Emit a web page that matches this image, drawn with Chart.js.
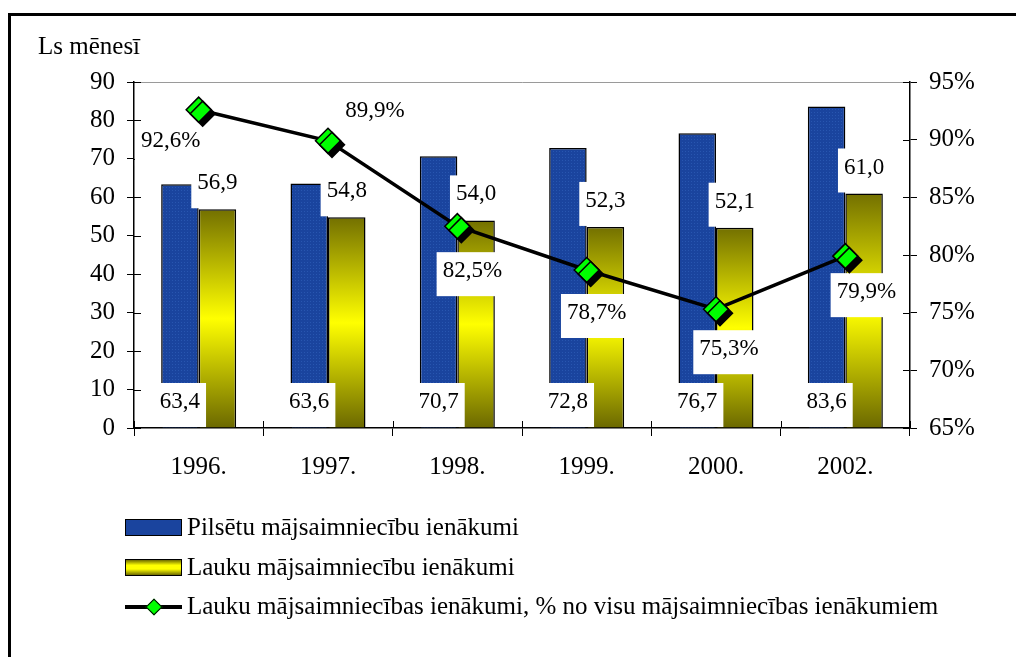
<!DOCTYPE html>
<html>
<head>
<meta charset="utf-8">
<script src="https://cdn.jsdelivr.net/npm/chart.js@4.4.1/dist/chart.umd.min.js"></script>
<style>
  html, body { margin: 0; padding: 0; background: #fff; overflow: hidden; }
  #wrap { position: relative; width: 1016px; height: 657px; overflow: hidden; }
  #frame { position: absolute; left: 8px; top: 13px; width: 1100px; height: 700px;
           border-left: 3px solid #000; border-top: 3px solid #000; }
  #chart { position: absolute; left: 0; top: 0; }
  .item { position: absolute; left: 125px; height: 40px; display: flex; align-items: center;
          font: 25px 'Liberation Serif', 'Times New Roman', serif; color: #000; white-space: nowrap; }
  .mk { position: relative; width: 57px; height: 17px; margin-right: 5px; box-sizing: border-box; }
  .mk.blue { border: 1.5px solid #000; background: #1a449e; }
  .mk.yellow { border: 1.5px solid #000;
               background: linear-gradient(#6e6b00, #ffff00 35%, #ffff00 60%, #6e6b00); }
  .mk.line::before { content: ''; position: absolute; left: 0; right: 0; top: 7px; height: 4px; background: #000; }
  .mk.line::after { content: ''; position: absolute; left: 23px; top: 3px; width: 10px; height: 10px;
                    background: #00ff00; border: 1.5px solid #000; transform: rotate(45deg); }
</style>
</head>
<body>
<div id="wrap">
  <canvas id="chart" width="1016" height="657"></canvas>
  <div id="frame"></div>
  <div class="item" style="top:507px"><span class="mk blue"></span>Pilsētu mājsaimniecību ienākumi</div>
  <div class="item" style="top:547px"><span class="mk yellow"></span>Lauku mājsaimniecību ienākumi</div>
  <div class="item" style="top:586px"><span class="mk line"></span>Lauku mājsaimniecības ienākumi, % no visu mājsaimniecības ienākumiem</div>
</div>
<script>
const categories = ['1996.', '1997.', '1998.', '1999.', '2000.', '2002.'];
const urbanIncome = [63.4, 63.6, 70.7, 72.8, 76.7, 83.6];
const ruralIncome = [56.9, 54.8, 54.0, 52.3, 52.1, 61.0];
const ruralShare = [92.6, 89.9, 82.5, 78.7, 75.3, 79.9];

// where each percentage label sits relative to its point (text centre)
const shareLabelOffsets = [[-28, 31], [47, -30], [15, 45], [10, 43], [13, 40], [21, 36]];

const serif = "'Liberation Serif', 'Times New Roman', serif";
Chart.defaults.font.family = serif;
Chart.defaults.font.size = 25;
Chart.defaults.color = '#000';

const fmt = v => v.toFixed(1).replace('.', ',');

const ctx = document.getElementById('chart').getContext('2d');

// dotted blue fill
const pc = document.createElement('canvas');
pc.width = 3; pc.height = 3;
const pctx = pc.getContext('2d');
pctx.fillStyle = '#1a449e';
pctx.fillRect(0, 0, 3, 3);
pctx.fillStyle = '#2856b0';
pctx.fillRect(1, 1, 1, 1);
const bluePattern = ctx.createPattern(pc, 'repeat');

function yellowFill(c) {
  const chart = c.chart;
  if (!chart.chartArea || c.dataIndex === undefined || !chart.scales.y) return '#ffff00';
  const top = chart.scales.y.getPixelForValue(c.raw);
  const bottom = chart.scales.y.getPixelForValue(0);
  const g = chart.ctx.createLinearGradient(0, top, 0, bottom);
  g.addColorStop(0, '#737000');
  g.addColorStop(0.5, '#ffff00');
  g.addColorStop(1, '#6b6800');
  return g;
}

function drawLabel(c, text, cx, bottom) {
  const w = c.measureText(text).width + 12;
  c.fillStyle = '#fff';
  c.fillRect(cx - w / 2, bottom - 44, w, 44);
  c.fillStyle = '#000';
  c.fillText(text, cx, bottom - 25);
}

const valueLabels = {
  id: 'valueLabels',
  beforeDatasetsDraw(chart) {
    // inner half of the axis tick marks
    const c = chart.ctx;
    const {y, y1, x} = chart.scales;
    c.save();
    c.strokeStyle = '#000';
    c.lineWidth = 1;
    c.beginPath();
    y.ticks.forEach((t, i) => {
      const py = Math.round(y.getPixelForTick(i)) + 0.5;
      c.moveTo(y.right, py); c.lineTo(y.right + 7, py);
    });
    y1.ticks.forEach((t, i) => {
      const py = Math.round(y1.getPixelForTick(i)) + 0.5;
      c.moveTo(y1.left, py); c.lineTo(y1.left - 7, py);
    });
    const step = (x.right - x.left) / categories.length;
    for (let i = 0; i <= categories.length; i++) {
      const px = Math.round(x.left + i * step) + 0.5;
      c.moveTo(px, x.top); c.lineTo(px, x.top - 7);
    }
    c.stroke();
    c.restore();
  },
  beforeDatasetDraw(chart, args) {
    const c = chart.ctx;
    if (args.index === 3) {
      c.save();
      c.shadowColor = '#000';
      c.shadowOffsetX = 4;
      c.shadowOffsetY = 4;
      c.shadowBlur = 0;
    }
    if (args.index !== 2) return;
    c.save();
    c.font = '23px ' + serif;
    c.textAlign = 'center';
    c.textBaseline = 'middle';
    const base = chart.scales.y.getPixelForValue(0);
    chart.getDatasetMeta(0).data.forEach((bar, i) => drawLabel(c, fmt(urbanIncome[i]), bar.x, base - 1));
    chart.getDatasetMeta(1).data.forEach((bar, i) => drawLabel(c, fmt(ruralIncome[i]), bar.x, bar.y - 1));
    chart.getDatasetMeta(2).data.forEach((pt, i) => {
      const [dx, dy] = shareLabelOffsets[i];
      drawLabel(c, fmt(ruralShare[i]) + '%', pt.x + dx, pt.y + dy + 25);
    });
    c.restore();
  },
  afterDatasetDraw(chart, args) {
    if (args.index === 3) chart.ctx.restore();
  }
};

new Chart(ctx, {
  type: 'bar',
  data: {
    labels: categories,
    datasets: [
      {
        label: 'Pilsētu mājsaimniecību ienākumi',
        data: urbanIncome,
        backgroundColor: bluePattern,
        borderColor: '#000',
        borderWidth: 1.5,
        categoryPercentage: 0.58,
        barPercentage: 1.0,
        yAxisID: 'y',
        order: 1
      },
      {
        label: 'Lauku mājsaimniecību ienākumi',
        data: ruralIncome,
        backgroundColor: yellowFill,
        borderColor: '#000',
        borderWidth: 1.5,
        categoryPercentage: 0.58,
        barPercentage: 1.0,
        yAxisID: 'y',
        order: 1
      },
      {
        type: 'line',
        label: 'Lauku mājsaimniecības ienākumi, % no visu mājsaimniecības ienākumiem',
        data: ruralShare,
        borderColor: '#000',
        borderWidth: 3.5,
        pointRadius: 0,
        tension: 0,
        yAxisID: 'y1',
        order: 0
      },
      {
        type: 'line',
        label: 'points',
        data: ruralShare,
        showLine: false,
        pointStyle: 'rectRot',
        pointRadius: 12.5,
        backgroundColor: '#00ff00',
        borderColor: '#000',
        borderWidth: 1.5,
        yAxisID: 'y1',
        order: -1
      }
    ]
  },
  options: {
    responsive: false,
    animation: false,
    events: [],
    layout: { padding: { left: 38, top: 0, right: 0, bottom: 0 } },
    plugins: {
      legend: { display: false },
      tooltip: { enabled: false },
      title: {
        display: true,
        text: 'Ls mēnesī',
        align: 'start',
        color: '#000',
        font: { size: 25, weight: 'normal', family: serif },
        padding: { top: 32, bottom: 20 }
      }
    },
    scales: {
      x: {
        offset: true,
        border: { color: '#000', width: 1.5 },
        grid: { offset: true, drawOnChartArea: false, color: '#000', tickLength: 8 },
        ticks: { padding: 16, font: { size: 25 } },
        afterFit: s => { s.height = 229; }
      },
      y: {
        position: 'left',
        min: 0,
        max: 90,
        border: { color: '#000', width: 1.5 },
        grid: {
          drawOnChartArea: true,
          color: c => (c.tick && c.tick.value === 90 ? '#9a9a9a' : 'rgba(0,0,0,0)'),
          tickColor: '#000',
          tickLength: 7
        },
        ticks: { stepSize: 10, padding: 12, font: { size: 25 } },
        afterFit: s => { s.width = 96; }
      },
      y1: {
        position: 'right',
        min: 65,
        max: 95,
        border: { color: '#000', width: 1.5 },
        grid: { drawOnChartArea: false, color: '#000', tickLength: 7 },
        ticks: { stepSize: 5, padding: 12, font: { size: 25 }, callback: v => v + '%' },
        afterFit: s => { s.width = 106; }
      }
    }
  },
  plugins: [valueLabels]
});
</script>
</body>
</html>
